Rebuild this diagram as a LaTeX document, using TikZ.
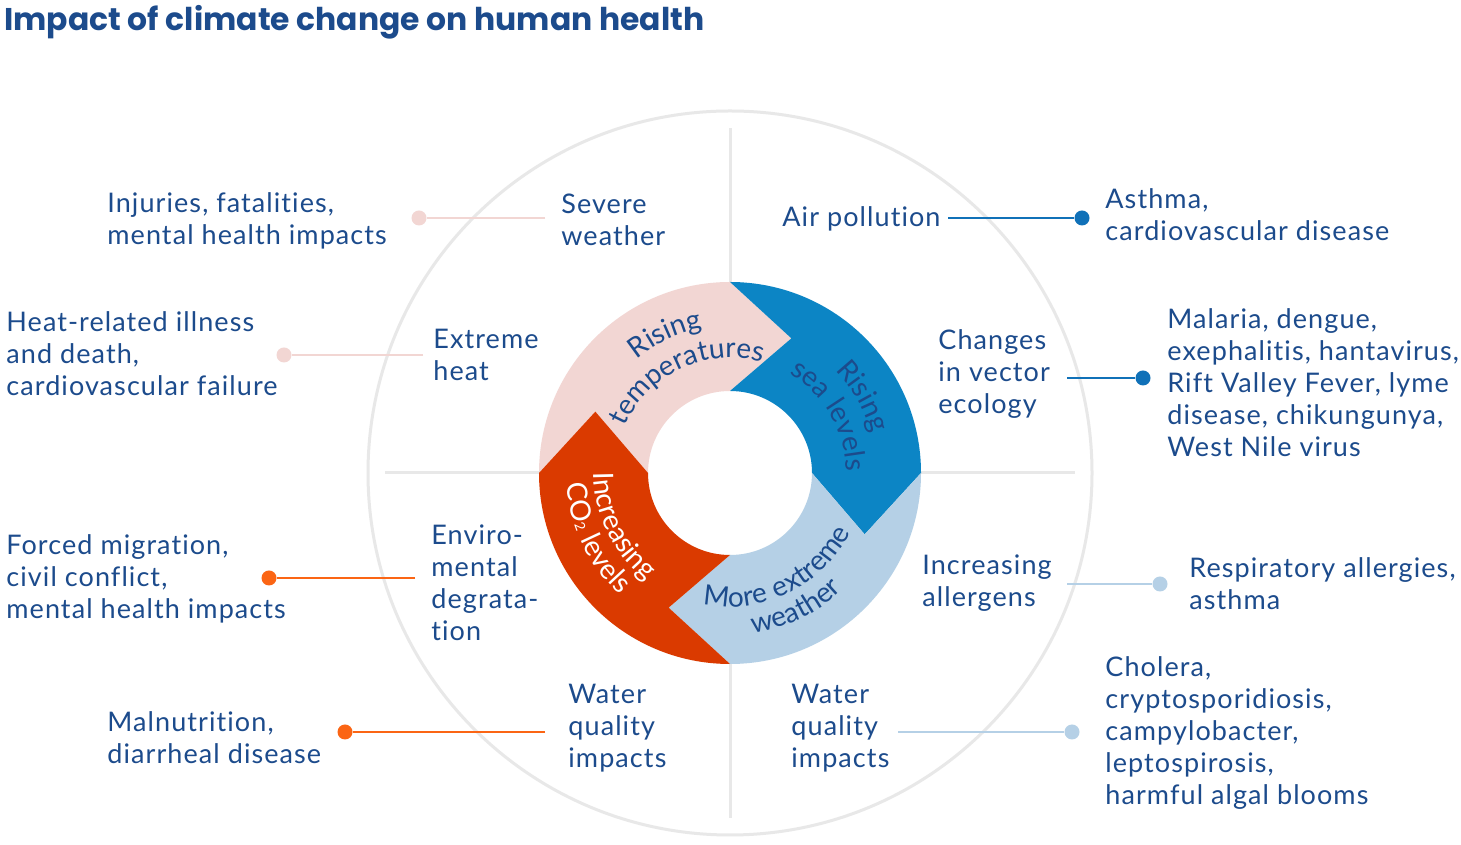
\documentclass[tikz,border=0pt]{standalone}
\usepackage{fontspec}
\setmainfont{Lato}[LetterSpace=4, Ligatures={NoCommon}]
\newfontfamily\titlefont{Poppins}
\usepackage{tikz}
\usetikzlibrary{decorations.text}
\definecolor{ink}{HTML}{1C4B8C}
\definecolor{pinkc}{HTML}{F2D6D3}
\definecolor{bluec}{HTML}{0C85C5}
\definecolor{blueline}{HTML}{1071B8}
\definecolor{lblue}{HTML}{B5D0E6}
\definecolor{redc}{HTML}{DA3A00}
\definecolor{orangec}{HTML}{FB6514}
\definecolor{grayc}{HTML}{E8E8E8}
\newcommand\ringfont{\fontsize{14}{16}\selectfont\color{ink}}
\newcommand\ringwhite{\fontsize{14}{16}\selectfont\color{white}}
\tikzset{
  lbl/.style={anchor=north west, inner sep=0pt, align=left, text=ink, font=\fontsize{13.5}{16}\selectfont},
  conn/.style={line width=1pt, #1},
  dot/.style={circle, fill=#1, inner sep=0pt, minimum size=7.5pt},
  spoke/.style={line width=1.5pt, grayc},
}

\begin{document}
\begin{tikzpicture}[x=0.5pt, y=0.5pt]
\useasboundingbox (0,0) rectangle (1461,845);
\fill[white] (0,0) rectangle (1461,845);
\node[lbl, font=\titlefont\bfseries\fontsize{15.7}{18}\selectfont] (title) at (4,840) {Impact of climate change on human health};

% ring, spokes and outer circle
\begin{scope}[shift={(730,372)}]
\draw[spoke] (0,0) circle[radius=362];
\foreach \a in {0,90,180,270}
  \draw[spoke] (\a:191) -- (\a:345);
\foreach \a/\col in {180/pinkc, 90/bluec, 0/lblue, 270/redc}
  \fill[\col] (\a:191) arc[start angle=\a, end angle=\a-90, radius=191] -- (\a-114.5:148)
    -- (\a-90:82) arc[start angle=\a-90, end angle=\a, radius=82] -- (\a-24.5:148) -- cycle;
\path[decorate, decoration={text along path, text align=center, text={|\ringfont|Rising}}]
  (175:147) arc[start angle=175, end angle=55, radius=147];
\path[decorate, decoration={text along path, text align=center, text={|\ringfont|temperatures}}]
  (175:115) arc[start angle=175, end angle=55, radius=115];
\path[decorate, decoration={text along path, text align=center, text={|\ringfont|Rising}}]
  (90:147) arc[start angle=90, end angle=-30, radius=147];
\path[decorate, decoration={text along path, text align=center, text={|\ringfont|sea levels}}]
  (90:116) arc[start angle=90, end angle=-30, radius=116];
\path[decorate, decoration={text along path, text align=center, text={|\ringfont|More extreme}}]
  (236:134) arc[start angle=236, end angle=356, radius=134];
\path[decorate, decoration={text along path, text align=center, text={|\ringfont|weather}}]
  (236:162) arc[start angle=236, end angle=356, radius=162];
\path[decorate, decoration={text along path, text align=center, text={|\ringwhite|Increasing}}]
  (146:136) arc[start angle=146, end angle=266, radius=136];
\path[decorate, decoration={text along path, text align=center,
  text={|\ringwhite|CO|\ringwhite\fontsize{7}{8}\selectfont|2|\ringwhite| levels}}]
  (146:164) arc[start angle=146, end angle=266, radius=164];
\end{scope}

% causes
\node[lbl] (severe) at (561,651) {Severe\\weather};
\node[lbl] (airpol) at (782,639) {Air pollution};
\node[lbl] (extheat) at (433,516) {Extreme\\heat};
\node[lbl] (vector) at (938,516) {Changes\\in vector\\ecology};
\node[lbl] (envir) at (431,321) {Enviro-\\mental\\degrata-\\tion};
\node[lbl] (allerg) at (922,291) {Increasing\\allergens};
\node[lbl] (waterl) at (568,161) {Water\\quality\\impacts};
\node[lbl] (waterr) at (791,161) {Water\\quality\\impacts};

% health effects
\node[lbl] (injur) at (107,653) {Injuries, fatalities,\\mental health impacts};
\node[lbl] (heatill) at (6,534) {Heat-related illness\\and death,\\cardiovascular failure};
\node[lbl] (forced) at (6,311) {Forced migration,\\civil conflict,\\mental health impacts};
\node[lbl] (malnut) at (107,134) {Malnutrition,\\diarrheal disease};
\node[lbl] (asthma) at (1105,657) {Asthma,\\cardiovascular disease};
\node[lbl] (malaria) at (1167,537) {Malaria, dengue,\\exephalitis, hantavirus,\\Rift Valley Fever, lyme\\disease, chikungunya,\\West Nile virus};
\node[lbl] (resp) at (1189,288) {Respiratory allergies,\\asthma};
\node[lbl] (cholera) at (1105,189) {Cholera,\\cryptosporidiosis,\\campylobacter,\\leptospirosis,\\harmful algal blooms};

% connectors
\node[dot=pinkc] (sevdot) at (419,627) {};
\node[dot=blueline] (airdot) at (1082,627) {};
\node[dot=pinkc] (heatdot) at (284,490) {};
\node[dot=blueline] (vecdot) at (1143,467) {};
\node[dot=orangec] (envdot) at (269,267) {};
\node[dot=lblue] (alldot) at (1160,261) {};
\node[dot=orangec] (wldot) at (345,113) {};
\node[dot=lblue] (wrdot) at (1072,113) {};
\coordinate (sevend) at (545,627);
\coordinate (airend) at (948,627);
\coordinate (heatend) at (423,490);
\coordinate (vecend) at (1067,467);
\coordinate (envend) at (415,267);
\coordinate (allend) at (1067,261);
\coordinate (wlend) at (545,113);
\coordinate (wrend) at (898,113);
\draw[conn=pinkc] (sevend) -- (sevdot);
\draw[conn=blueline] (airend) -- (airdot);
\draw[conn=pinkc] (heatend) -- (heatdot);
\draw[conn=blueline] (vecend) -- (vecdot);
\draw[conn=orangec] (envend) -- (envdot);
\draw[conn=lblue] (allend) -- (alldot);
\draw[conn=orangec] (wlend) -- (wldot);
\draw[conn=lblue] (wrend) -- (wrdot);
\end{tikzpicture}
\end{document}
